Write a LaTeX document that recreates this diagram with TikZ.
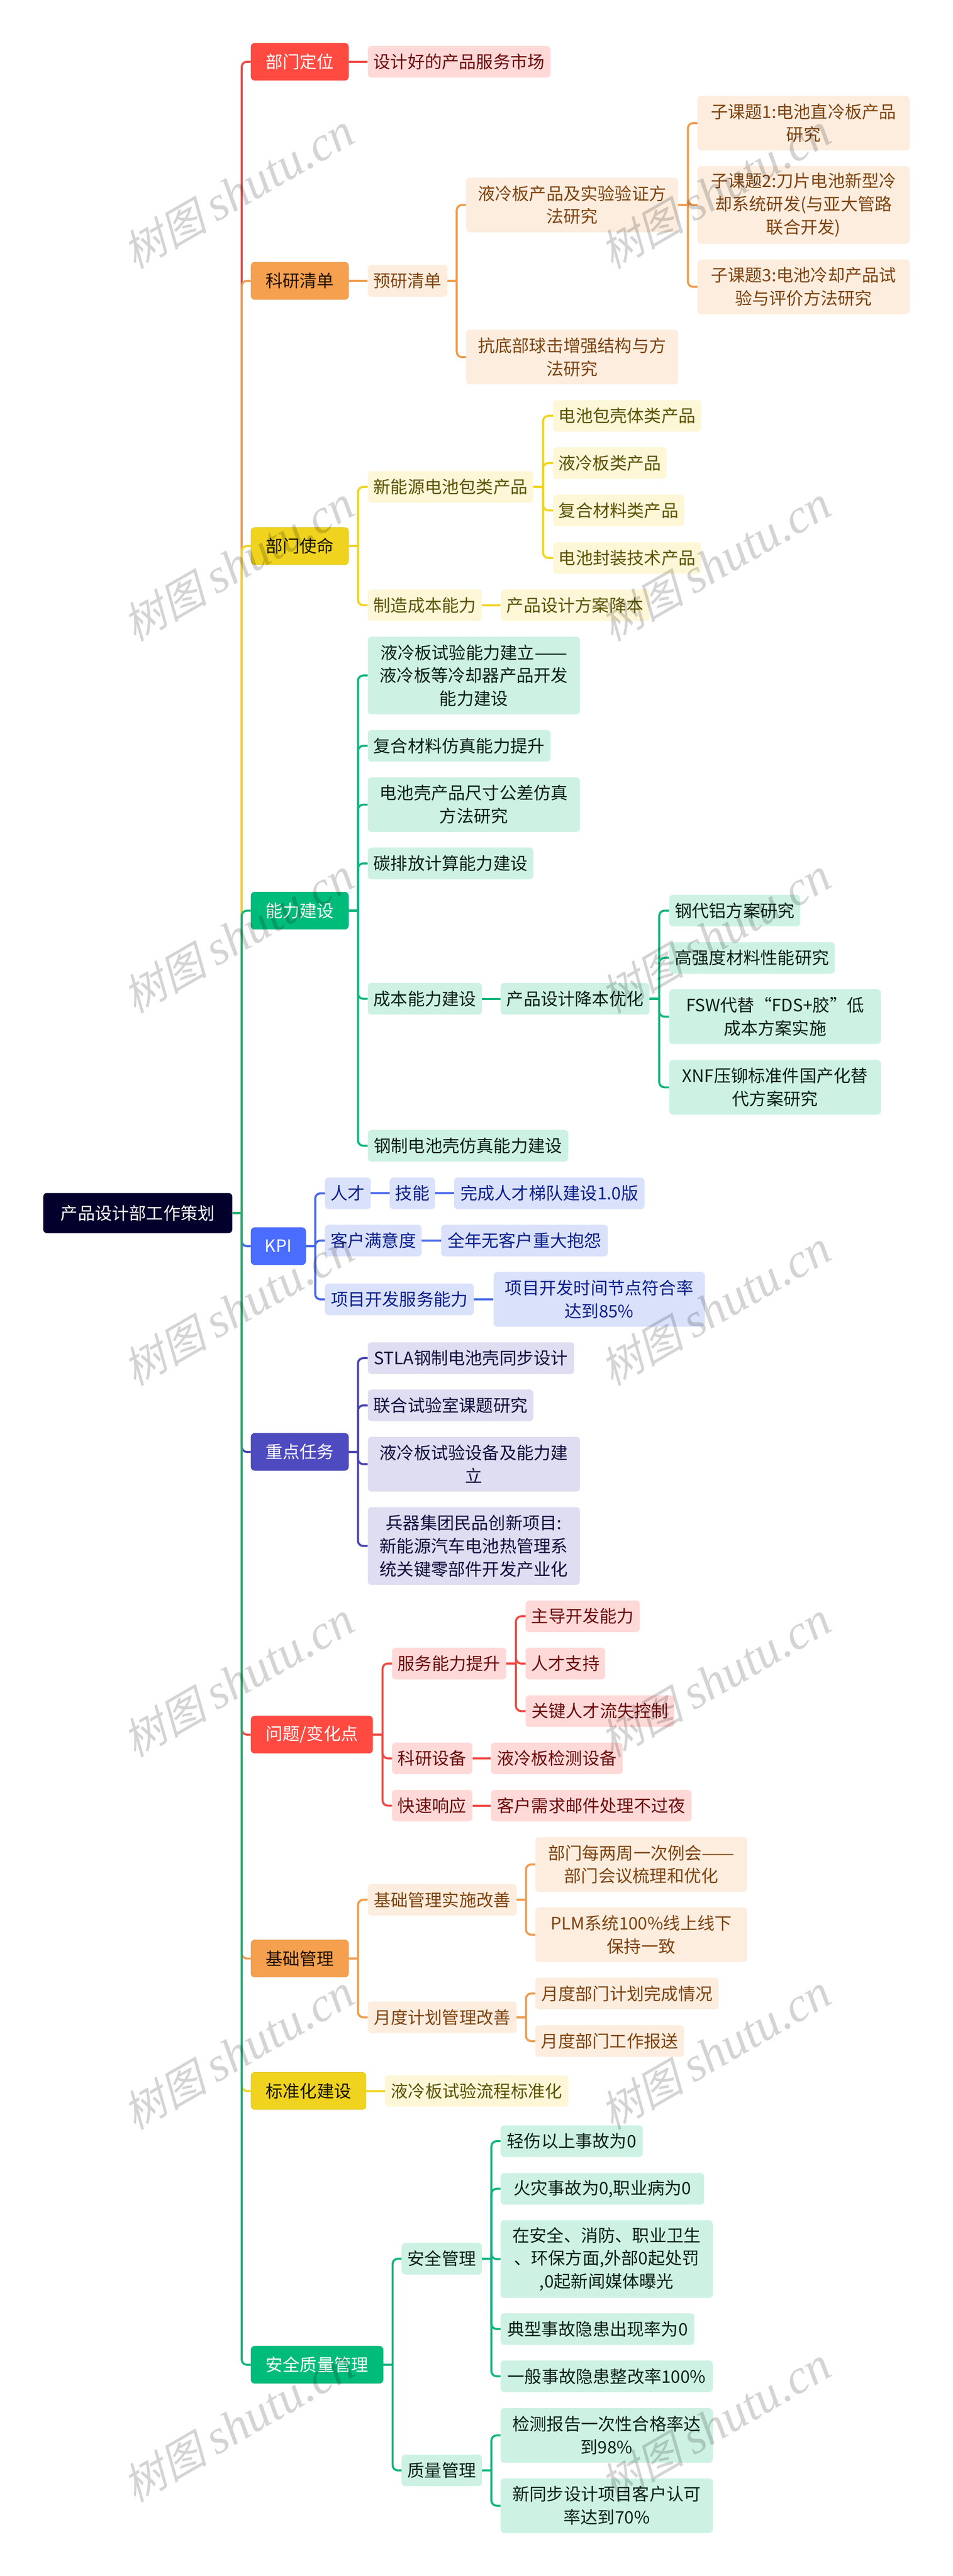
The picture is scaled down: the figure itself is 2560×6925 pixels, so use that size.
\documentclass[tikz,border=0pt]{standalone}
\usepackage{fontspec}
\setmainfont{Noto Sans CJK SC}
\newfontfamily\wmcjk[FakeSlant=0.25]{Noto Sans CJK SC}
\newfontfamily\wmlatin{Liberation Serif}
\usepackage{tikz}
\usetikzlibrary{positioning}
\newcommand{\langstrich}{\scalebox{1.14}[1]{——}}
\definecolor{rootc}{HTML}{03002C}
\definecolor{redc}{HTML}{FF4A41}
\definecolor{redl}{HTML}{EF4B44}
\definecolor{redf}{HTML}{FFD9D8}
\definecolor{redt}{HTML}{6B0B0B}
\definecolor{orac}{HTML}{F5A04E}
\definecolor{oral}{HTML}{F09C4D}
\definecolor{oraf}{HTML}{FCEDDF}
\definecolor{orat}{HTML}{7F430F}
\definecolor{yelc}{HTML}{F0D31E}
\definecolor{yelf}{HTML}{FDF7D8}
\definecolor{yelt}{HTML}{5D5200}
\definecolor{grec}{HTML}{00BC7B}
\definecolor{grel}{HTML}{0FB67F}
\definecolor{gref}{HTML}{CDF2E3}
\definecolor{gret}{HTML}{0B1F17}
\definecolor{bluc}{HTML}{4A6CFF}
\definecolor{blul}{HTML}{4566E8}
\definecolor{bluf}{HTML}{DAE1FB}
\definecolor{blut}{HTML}{0B1F8A}
\definecolor{indc}{HTML}{4E4ABF}
\definecolor{indl}{HTML}{4844AE}
\definecolor{indf}{HTML}{DEDDF1}
\definecolor{indt}{HTML}{0F0E3D}
\tikzset{
  base/.style={rounded corners=10pt,inner sep=0pt,anchor=west,align=center,
    font=\fontsize{46}{62}\selectfont},
  wide/.style={minimum width=#1pt},
  h1/.style={minimum height=85pt},
  h2/.style={minimum height=147pt},
  h3/.style={minimum height=209pt},
  top/.style 2 args={base,fill=#1,draw=#1!92!black,line width=1pt,text=#2,minimum height=100pt},
  redkid/.style={base,fill=redf,text=redt},
  orakid/.style={base,fill=oraf,text=orat},
  yelkid/.style={base,fill=yelf,text=yelt},
  grekid/.style={base,fill=gref,text=gret},
  blukid/.style={base,fill=bluf,text=blut},
  indkid/.style={base,fill=indf,text=indt},
  redlink/.style={draw=redl,line width=5.5pt},
  oralink/.style={draw=oral,line width=5.5pt},
  yellink/.style={draw=yelc,line width=5.5pt},
  grelink/.style={draw=grel,line width=5.5pt},
  blulink/.style={draw=blul,line width=5.5pt},
  indlink/.style={draw=indl,line width=5.5pt},
}
\begin{document}
\begin{tikzpicture}[x=1pt,y=-1pt]
\useasboundingbox (0,0) rectangle (2560,6925);
%Wurzel
\node[base,fill=rootc,text=white,wide=508,minimum height=108pt] (root) at (116,3261) {产品设计部工作策划};
%erste Ebene
\node[top={redc}{white},wide=262] (dingwei) at (674,166) {部门定位};
\node[top={orac}{black!75!orat},wide=262] (keyan) at (674,755) {科研清单};
\node[top={yelc}{black!75!yelt},wide=262] (shiming) at (674,1468) {部门使命};
\node[top={grec}{white},wide=262] (nengli) at (674,2448) {能力建设};
\node[top={bluc}{white},wide=147] (kpi) at (674,3350) {KPI};
\node[top={indc}{white},wide=262] (renwu) at (674,3903) {重点任务};
\node[top={redc}{white},wide=327] (wenti) at (674,4663) {问题/变化点};
\node[top={orac}{black!75!orat},wide=262] (jichu) at (674,5265) {基础管理};
\node[top={yelc}{black!75!yelt},wide=309] (biaozhun) at (674,5621) {标准化建设};
\node[top={grec}{white},wide=355] (anquan) at (674,6357) {安全质量管理};
%Abteilung
\node[redkid,h1,wide=491] (shichang) at (988,166) {设计好的产品服务市场};
%Forschung
\node[orakid,h1,wide=214] (yuyan) at (988,755) {预研清单};
\node[orakid,h2,wide=570] (yeleng) at (1252,551) {液冷板产品及实验验证方\\法研究};
\node[orakid,h2,wide=570] (kangdi) at (1252,960) {抗底部球击增强结构与方\\法研究};
\node[orakid,h2,wide=570] (keti1) at (1874,331) {子课题1:电池直冷板产品\\研究};
\node[orakid,h3,wide=570] (keti2) at (1874,551) {子课题2:刀片电池新型冷\\却系统研发(与亚大管路\\联合开发)};
\node[orakid,h2,wide=570] (keti3) at (1874,771) {子课题3:电池冷却产品试\\验与评价方法研究};
%Mission
\node[yelkid,h1,wide=445] (xinneng) at (988,1309) {新能源电池包类产品};
\node[yelkid,h1,wide=307] (zhizao) at (988,1627) {制造成本能力};
\node[yelkid,h1,wide=400] (fangan) at (1345,1627) {产品设计方案降本};
\node[yelkid,h1,wide=398] (baoke) at (1486,1118) {电池包壳体类产品};
\node[yelkid,h1,wide=305] (banlei) at (1486,1245) {液冷板类产品};
\node[yelkid,h1,wide=352] (fuhe) at (1486,1372) {复合材料类产品};
\node[yelkid,h1,wide=398] (fengzhuang) at (1486,1500) {电池封装技术产品};
%Faehigkeiten
\node[grekid,h3,wide=570] (shiyan) at (988,1816) {液冷板试验能力建立\langstrich\\液冷板等冷却器产品开发\\能力建设};
\node[grekid,h1,wide=491] (fangzhen) at (988,2005) {复合材料仿真能力提升};
\node[grekid,h2,wide=570] (gongcha) at (988,2163) {电池壳产品尺寸公差仿真\\方法研究};
\node[grekid,h1,wide=445] (tanpai) at (988,2321) {碳排放计算能力建设};
\node[grekid,h1,wide=307] (chengben) at (988,2685) {成本能力建设};
\node[grekid,h1,wide=539] (gangzhi) at (988,3080) {钢制电池壳仿真能力建设};
\node[grekid,h1,wide=400] (jiangben) at (1345,2685) {产品设计降本优化};
\node[grekid,h1,wide=352] (gangdai) at (1798,2448) {钢代铝方案研究};
\node[grekid,h1,wide=445] (gaoqiang) at (1798,2575) {高强度材料性能研究};
\node[grekid,h2,wide=569] (fsw) at (1798,2733) {FSW代替“FDS+胶”低\\成本方案实施};
\node[grekid,h2,wide=569] (xnf) at (1798,2923) {XNF压铆标准件国产化替\\代方案研究};
%KPI
\node[blukid,h1,wide=123] (rencai) at (873,3208) {人才};
\node[blukid,h1,wide=122] (jineng) at (1047,3208) {技能};
\node[blukid,h1,wide=512] (tidui) at (1220,3208) {完成人才梯队建设1.0版};
\node[blukid,h1,wide=260] (manyi) at (873,3335) {客户满意度};
\node[blukid,h1,wide=448] (baoyuan) at (1185,3335) {全年无客户重大抱怨};
\node[blukid,h1,wide=400] (xiangmu) at (873,3493) {项目开发服务能力};
\node[blukid,h2,wide=568] (jiedian) at (1326,3493) {项目开发时间节点符合率\\达到85\%};
%Schwerpunkte
\node[indkid,h1,wide=555] (stla) at (988,3651) {STLA钢制电池壳同步设计};
\node[indkid,h1,wide=445] (lianhe) at (988,3778) {联合试验室课题研究};
\node[indkid,h2,wide=570] (shebei) at (988,3936) {液冷板试验设备及能力建\\立};
\node[indkid,h3,wide=570] (bingqi) at (988,4156) {兵器集团民品创新项目:\\新能源汽车电池热管理系\\统关键零部件开发产业化};
%Probleme
\node[redkid,h1,wide=307] (fuwu) at (1053,4472) {服务能力提升};
\node[redkid,h1,wide=216] (kebei) at (1053,4727) {科研设备};
\node[redkid,h1,wide=216] (kuaisu) at (1053,4854) {快速响应};
\node[redkid,h1,wide=307] (zhudao) at (1412,4345) {主导开发能力};
\node[redkid,h1,wide=214] (zhichi) at (1412,4472) {人才支持};
\node[redkid,h1,wide=400] (liushi) at (1412,4600) {关键人才流失控制};
\node[redkid,h1,wide=354] (jiance) at (1319,4727) {液冷板检测设备};
\node[redkid,h1,wide=539] (youjian) at (1319,4854) {客户需求邮件处理不过夜};
%Grundlagen
\node[orakid,h1,wide=400] (shishi) at (988,5107) {基础管理实施改善};
\node[orakid,h1,wide=400] (yuedu) at (988,5423) {月度计划管理改善};
\node[orakid,h2,wide=570] (lihui) at (1438,5012) {部门每两周一次例会\langstrich\\部门会议梳理和优化};
\node[orakid,h2,wide=570] (plm) at (1438,5201) {PLM系统100\%线上线下\\保持一致};
\node[orakid,h1,wide=493] (wancheng) at (1438,5359) {月度部门计划完成情况};
\node[orakid,h1,wide=400] (baosong) at (1438,5487) {月度部门工作报送};
%Standard
\node[yelkid,h1,wide=493] (liucheng) at (1034,5621) {液冷板试验流程标准化};
%Sicherheit
\node[grekid,h1,wide=216] (aq) at (1079,6072) {安全管理};
\node[grekid,h1,wide=216] (zl) at (1079,6641) {质量管理};
\node[grekid,h1,wide=382] (qingshang) at (1345,5756) {轻伤以上事故为0};
\node[grekid,h1,wide=547] (huozai) at (1345,5884) {火灾事故为0,职业病为0};
\node[grekid,h3,wide=570] (zaianquan) at (1345,6073) {在安全、消防、职业卫生\\、环保方面,外部0起处罚\\,0起新闻媒体曝光};
\node[grekid,h1,wide=521] (dianxing) at (1345,6261) {典型事故隐患出现率为0};
\node[grekid,h1,wide=570] (yiban) at (1345,6388) {一般事故隐患整改率100\%};
\node[grekid,h2,wide=570] (jiance2) at (1345,6547) {检测报告一次性合格率达\\到98\%};
\node[grekid,h2,wide=570] (renke) at (1345,6736) {新同步设计项目客户认可\\率达到70\%};
%Verbindungen von der Wurzel, die spaeteren liegen oben
\draw[redlink,rounded corners=14pt] (root.east) -- ++(25,0) ++(0,0) |- (dingwei.west);
\draw[oralink,rounded corners=14pt] (root.east) -- ++(25,0) ++(0,0) |- (keyan.west);
\draw[yellink,rounded corners=14pt] (root.east) -- ++(25,0) ++(0,0) |- (shiming.west);
\draw[grelink,rounded corners=14pt] (root.east) -- ++(25,0) ++(0,0) |- (nengli.west);
\draw[blulink,rounded corners=14pt] (root.east) -- ++(25,0) ++(0,0) |- (kpi.west);
\draw[indlink,rounded corners=14pt] (root.east) -- ++(25,0) ++(0,0) |- (renwu.west);
\draw[redlink,rounded corners=14pt] (root.east) -- ++(25,0) ++(0,0) |- (wenti.west);
\draw[oralink,rounded corners=14pt] (root.east) -- ++(25,0) ++(0,0) |- (jichu.west);
\draw[yellink,rounded corners=14pt] (root.east) -- ++(25,0) ++(0,0) |- (biaozhun.west);
\draw[grelink,rounded corners=14pt] (root.east) -- ++(25,0) ++(0,0) |- (anquan.west);
%restliche Verbindungen
\draw[redlink] (dingwei.east) -- (shichang.west);
\draw[oralink] (keyan.east) -- (yuyan.west);
\foreach \kid in {yeleng,kangdi}{
\draw[oralink,rounded corners=14pt] (yuyan.east) -- ++(25,0) ++(0,0) |- (\kid.west);
}
\foreach \kid in {keti1,keti2,keti3}{
\draw[oralink,rounded corners=14pt] (yeleng.east) -- ++(26,0) ++(0,0) |- (\kid.west);
}
\foreach \kid in {xinneng,zhizao}{
\draw[yellink,rounded corners=14pt] (shiming.east) -- ++(25,0) ++(0,0) |- (\kid.west);
}
\foreach \kid in {baoke,banlei,fuhe,fengzhuang}{
\draw[yellink,rounded corners=14pt] (xinneng.east) -- ++(26,0) ++(0,0) |- (\kid.west);
}
\draw[yellink] (zhizao.east) -- (fangan.west);
\foreach \kid in {shiyan,fangzhen,gongcha,tanpai,chengben,gangzhi}{
\draw[grelink,rounded corners=14pt] (nengli.east) -- ++(25,0) ++(0,0) |- (\kid.west);
}
\draw[grelink] (chengben.east) -- (jiangben.west);
\foreach \kid in {gangdai,gaoqiang,fsw,xnf}{
\draw[grelink,rounded corners=14pt] (jiangben.east) -- ++(26,0) ++(0,0) |- (\kid.west);
}
\foreach \kid in {rencai,manyi,xiangmu}{
\draw[blulink,rounded corners=14pt] (kpi.east) -- ++(25,0) ++(0,0) |- (\kid.west);
}
\draw[blulink] (rencai.east) -- (jineng.west);
\draw[blulink] (jineng.east) -- (tidui.west);
\draw[blulink] (manyi.east) -- (baoyuan.west);
\draw[blulink] (xiangmu.east) -- (jiedian.west);
\foreach \kid in {stla,lianhe,shebei,bingqi}{
\draw[indlink,rounded corners=14pt] (renwu.east) -- ++(25,0) ++(0,0) |- (\kid.west);
}
\foreach \kid in {fuwu,kebei,kuaisu}{
\draw[redlink,rounded corners=14pt] (wenti.east) -- ++(26,0) ++(0,0) |- (\kid.west);
}
\foreach \kid in {zhudao,zhichi,liushi}{
\draw[redlink,rounded corners=14pt] (fuwu.east) -- ++(26,0) ++(0,0) |- (\kid.west);
}
\draw[redlink] (kebei.east) -- (jiance.west);
\draw[redlink] (kuaisu.east) -- (youjian.west);
\foreach \kid in {shishi,yuedu}{
\draw[oralink,rounded corners=14pt] (jichu.east) -- ++(25,0) ++(0,0) |- (\kid.west);
}
\foreach \kid in {lihui,plm}{
\draw[oralink,rounded corners=14pt] (shishi.east) -- ++(25,0) ++(0,0) |- (\kid.west);
}
\foreach \kid in {wancheng,baosong}{
\draw[oralink,rounded corners=14pt] (yuedu.east) -- ++(25,0) ++(0,0) |- (\kid.west);
}
\draw[yellink] (biaozhun.east) -- (liucheng.west);
\foreach \kid in {aq,zl}{
\draw[grelink,rounded corners=14pt] (anquan.east) -- ++(25,0) ++(0,0) |- (\kid.west);
}
\foreach \kid in {qingshang,huozai,zaianquan,dianxing,yiban}{
\draw[grelink,rounded corners=14pt] (aq.east) -- ++(25,0) ++(0,0) |- (\kid.west);
}
\foreach \kid in {jiance2,renke}{
\draw[grelink,rounded corners=14pt] (zl.east) -- ++(25,0) ++(0,0) |- (\kid.west);
}
%Wasserzeichen
\foreach \wy in {515,1516,2516,3517,4516,5517,6518}{
\foreach \wx in {640,1922}{
\node[rotate=30,text=black,text opacity=.17] (wm\wx\wy) at (\wx,\wy) {\fontsize{114}{114}\wmcjk 树图\hspace{26pt}\fontsize{130}{130}\wmlatin\itshape shutu.cn};
}
}
\end{tikzpicture}
\end{document}
